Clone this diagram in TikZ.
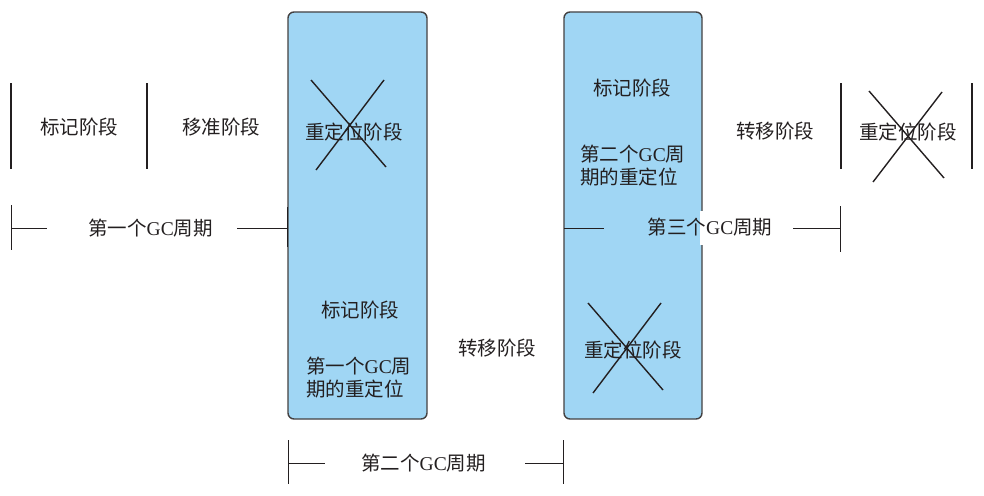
\documentclass[tikz,border=0pt]{standalone}
\usepackage{fontspec}
\setmainfont{Liberation Serif}
\newfontfamily\cjk{Noto Sans CJK SC}
\newcommand{\GCtxt}{{\rmfamily GC}}
\definecolor{boxblue}{RGB}{160,214,244}
\definecolor{ink}{RGB}{35,31,32}
\begin{document}
\begin{tikzpicture}[x=1pt,y=-1pt,
  phasebox/.style={draw=ink!85, line width=1.4pt, fill=boxblue, rounded corners=6pt, inner sep=0pt},
  lbl/.style={text=ink, font=\fontsize{19.5}{22.5}\selectfont\cjk, inner sep=0pt},
  bar/.style={draw=ink, line width=2.4pt},
  thin/.style={draw=ink, line width=0.9pt},
  crossline/.style={draw=ink, line width=1.4pt}]
\useasboundingbox (0,0) rectangle (984,495);
% boxes
\node[phasebox, minimum width=139pt, minimum height=407pt] (box1) at (357.5,215.5) {};
\node[phasebox, minimum width=138pt, minimum height=407pt] (box2) at (633,215.5) {};
\fill[white] (699.5,211) rectangle (705,245);
% top-left phases
\draw[bar] (11,83) -- (11,169);
\draw[bar] (147,83) -- (147,169);
\node[lbl] (mark1) at (79,127) {标记阶段};
\node[lbl] (move1) at (221,127) {移准阶段};
% box1 top
\node[lbl] (reloc1) at (354,132) {重定位阶段};
\draw[crossline] (311,80) -- (386,167);
\draw[crossline] (384,80) -- (316,170);
% first GC cycle
\draw[thin] (11,205) -- (11,250);
\draw[thin] (287,207) -- (287,247);
\coordinate (c1l) at (11,228);
\coordinate (c1a) at (47,228);
\coordinate (c1b) at (237,228);
\coordinate (c1r) at (287,228);
\node[lbl] (cyc1) at (150.5,228) {第一个\GCtxt 周期};
\draw[thin] (c1l) -- (c1a);
\draw[thin] (c1b) -- (c1r);
% box1 bottom
\node[lbl] (mark2) at (360,310) {标记阶段};
\node[lbl, align=left, anchor=north west] (fix1) at (306,357) {第一个\GCtxt 周\\期的重定位};
% middle
\node[lbl] (move2) at (497,348) {转移阶段};
% box2 top
\node[lbl] (mark3) at (632,88) {标记阶段};
\node[lbl, align=left, anchor=north west] (fix2) at (580,145) {第二个\GCtxt 周\\期的重定位};
% box2 bottom
\node[lbl] (reloc2) at (633,350) {重定位阶段};
\draw[crossline] (588,303) -- (663,390);
\draw[crossline] (661,303) -- (593,393);
% second GC cycle
\draw[thin] (288,440) -- (288,484);
\draw[thin] (563,440) -- (563,484);
\coordinate (c2l) at (288,463);
\coordinate (c2a) at (325,463);
\coordinate (c2b) at (525,463);
\coordinate (c2r) at (563,463);
\node[lbl] (cyc2) at (423.5,463) {第二个\GCtxt 周期};
\draw[thin] (c2l) -- (c2a);
\draw[thin] (c2b) -- (c2r);
% right side
\node[lbl] (move3) at (775,131) {转移阶段};
\draw[bar] (841,83) -- (841,169);
\draw[bar] (972,83) -- (972,169);
\node[lbl] (reloc3) at (908,132) {重定位阶段};
\draw[crossline] (869,91) -- (944,178);
\draw[crossline] (942,92) -- (873,182);
% third GC cycle
\draw[thin] (840,206) -- (840,252);
\coordinate (c3l) at (564,228);
\coordinate (c3a) at (604,228);
\coordinate (c3b) at (793,228);
\coordinate (c3r) at (840,228);
\node[lbl] (cyc3) at (710,227) {第三个\GCtxt 周期};
\draw[thin] (c3l) -- (c3a);
\draw[thin] (c3b) -- (c3r);
\end{tikzpicture}
\end{document}
